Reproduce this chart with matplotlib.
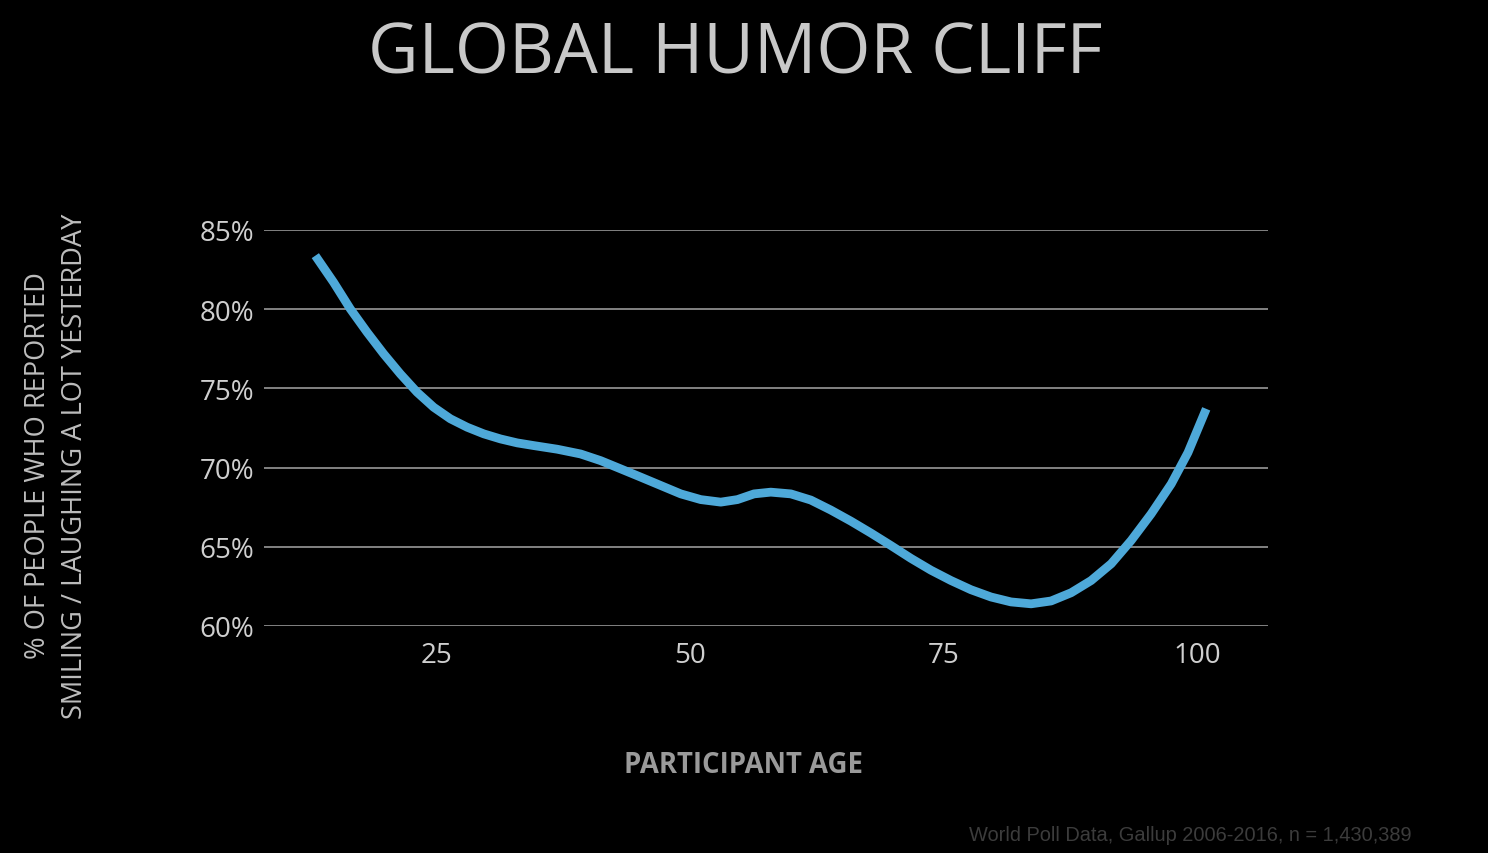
import matplotlib
matplotlib.use("Agg")
import matplotlib.pyplot as plt

# values
age = [13.06, 14.86, 16.51, 18.16, 19.80, 21.45, 23.09, 24.73, 26.38, 28.03,
       29.67, 31.32, 32.97, 34.60, 36.92, 39.22, 41.19, 43.17, 45.14, 47.12,
       49.10, 51.07, 53.04, 54.68, 56.32, 57.97, 59.95, 61.92, 63.89, 65.87,
       67.84, 69.82, 71.79, 73.77, 75.74, 77.71, 79.69, 81.66, 83.64, 85.61,
       87.59, 89.56, 91.54, 93.51, 95.48, 97.46, 99.11, 100.91]
pct = [83.38, 81.70, 80.02, 78.55, 77.18, 75.91, 74.76, 73.81, 73.08, 72.55,
       72.13, 71.81, 71.56, 71.39, 71.16, 70.86, 70.44, 69.92, 69.40, 68.87,
       68.34, 67.98, 67.82, 67.98, 68.34, 68.45, 68.34, 67.95, 67.32, 66.62,
       65.87, 65.08, 64.27, 63.52, 62.87, 62.29, 61.83, 61.52, 61.40, 61.58,
       62.10, 62.87, 63.93, 65.40, 67.08, 68.97, 70.95, 73.71]
xticks = [25, 50, 75, 100]
yticks = [60, 65, 70, 75, 80, 85]

plt.rcParams['font.family'] = ['Open Sans', 'DejaVu Sans']

fig = plt.figure(figsize=(14.88, 8.54), dpi=100, facecolor="black")
ax = fig.add_axes([264 / 1488, 1 - 627 / 854, (1268 - 264) / 1488, (627 - 231) / 854])
ax.set_facecolor("black")

ax.plot(age, pct, color="#4ea9d9", lw=6.3, solid_capstyle="butt",
        solid_joinstyle="round", zorder=3)

ax.set_xlim(8, 107)
ax.set_ylim(60, 85)
ax.set_xticks(xticks)
ax.set_yticks(yticks)
ax.set_yticklabels([f"{v}%" for v in yticks])
ax.grid(axis="y", color="#8c8c8c", lw=1.3)
ax.set_axisbelow(True)
for s in ax.spines.values():
    s.set_visible(False)
ax.tick_params(length=0, colors="#cfcfcf", labelsize=20)
ax.tick_params(axis="y", pad=7)
ax.tick_params(axis="x", pad=11)

fig.text(0.494, 1 - 55 / 854, "GLOBAL HUMOR CLIFF", color="#c8c8c8",
         fontsize=50, ha="center", va="center")
fig.text(38 / 1488, 1 - 466 / 854, "% OF PEOPLE WHO REPORTED", color="#bdbdbd",
         fontsize=19.6, rotation=90, ha="center", va="center")
fig.text(75 / 1488, 1 - 466 / 854, "SMILING / LAUGHING A LOT YESTERDAY", color="#bdbdbd",
         fontsize=19.6, rotation=90, ha="center", va="center")
fig.text(744 / 1488, 1 - 766 / 854, "PARTICIPANT AGE", color="#9a9a9a",
         fontsize=19.8, fontweight="bold", ha="center", va="center")
fig.text(1412 / 1488, 1 - 836 / 854, "World Poll Data, Gallup 2006-2016, n = 1,430,389",
         color="#3c3c3c", fontsize=14.4, family="Liberation Sans", ha="right", va="center")

fig.savefig("out.png", dpi=100, facecolor="black")
